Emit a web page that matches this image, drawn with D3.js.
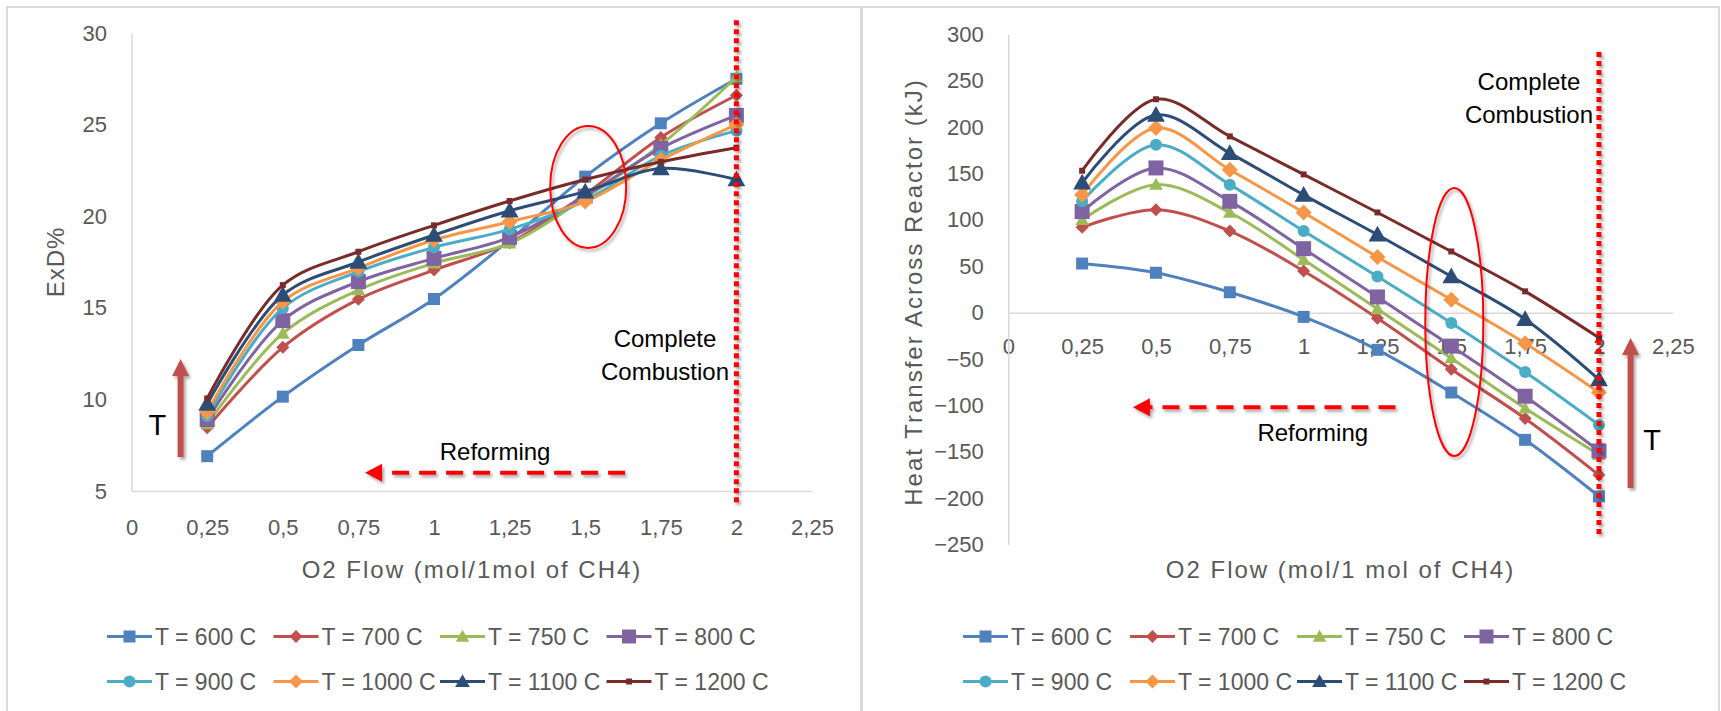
<!DOCTYPE html>
<html>
<head>
<meta charset="utf-8">
<script src="https://cdn.jsdelivr.net/npm/d3@7"></script>
<style>
  body { margin: 0; background: #fff; }
  text { font-family: "Liberation Sans", Arial, sans-serif; }
</style>
</head>
<body>
<div id="chart"></div>
<script>
// O2 flow values (x) shared by both charts
var o2Flow = [0.25, 0.5, 0.75, 1, 1.25, 1.5, 1.75, 2];
var xTicks = [0, 0.25, 0.5, 0.75, 1, 1.25, 1.5, 1.75, 2, 2.25];
var xTickLabels = ["0", "0,25", "0,5", "0,75", "1", "1,25", "1,5", "1,75", "2", "2,25"];
var exdTicks = [5, 10, 15, 20, 25, 30];
var heatTicks = [-250, -200, -150, -100, -50, 0, 50, 100, 150, 200, 250, 300];
var tempLabels = ["T = 600 C", "T = 700 C", "T = 750 C", "T = 800 C",
                  "T = 900 C", "T = 1000 C", "T = 1100 C", "T = 1200 C"];

// left chart : ExD%
var exd600  = [6.9, 10.15, 12.97, 15.48, 18.7, 22.16, 25.07, 27.5];
var exd700  = [8.45, 12.84, 15.46, 17.06, 18.55, 21.2, 24.3, 26.6];
var exd750  = [8.65, 13.6, 15.97, 17.43, 18.52, 21.0, 23.9, 27.6];
var exd800  = [8.9, 14.3, 16.43, 17.7, 18.85, 21.1, 23.7, 25.5];
var exd900  = [9.1, 14.98, 16.97, 18.3, 19.28, 20.85, 23.3, 24.67];
var exd1000 = [9.3, 15.33, 17.17, 18.7, 19.7, 20.8, 23.07, 25.0];
var exd1100 = [9.75, 15.7, 17.5, 18.97, 20.3, 21.34, 22.6, 22.0];
var exd1200 = [10.05, 16.24, 18.06, 19.5, 20.83, 22.0, 22.97, 23.74];

// right chart : heat transfer across reactor (kJ)
var heat600  = [53, 43, 22, -4.5, -40, -86, -137, -198];
var heat700  = [92, 111, 88, 45, -6, -61, -114, -175];
var heat750  = [100, 138, 108, 57, 4, -49, -103, -153];
var heat800  = [109, 156, 120, 69, 17, -36, -90, -149];
var heat900  = [120, 181, 138, 88, 39, -11, -64, -121];
var heat1000 = [127, 199, 154, 108, 60, 14, -33, -86];
var heat1100 = [140, 213, 172, 127, 84, 39, -7, -72];
var heat1200 = [153, 230, 190, 149, 108, 66, 23, -27];

var exdSeries = [exd600, exd700, exd750, exd800, exd900, exd1000, exd1100, exd1200];
var heatSeries = [heat600, heat700, heat750, heat800, heat900, heat1000, heat1100, heat1200];

// estilos de las series
var colores = ["#4F81BD", "#C0504D", "#9BBB59", "#8064A2", "#4BACC6", "#F79646", "#2C4D75", "#772C2A"];
var formas = ["square", "diamond", "triangle", "square", "circle", "diamond", "triangle", "square"];
var tamanos = [12, 13, 13, 15, 12, 16, 17, 6];

var gris = "#595959", ejeColor = "#D9D9D9";

var svg = d3.select("#chart").append("svg")
  .attr("width", 1721).attr("height", 711);

var defs = svg.append("defs");
// userSpaceOnUse so that the vertical dotted line (zero-width bbox) is still drawn
var sombra = defs.append("filter").attr("id", "sombra")
  .attr("filterUnits", "userSpaceOnUse")
  .attr("x", 0).attr("y", 0).attr("width", 1721).attr("height", 711);
sombra.append("feDropShadow").attr("dx", 2).attr("dy", 2.5)
  .attr("stdDeviation", 1.6).attr("flood-color", "#000").attr("flood-opacity", 0.35);

// marcos de los paneles
svg.append("rect").attr("x", 0).attr("y", 0).attr("width", 1721).attr("height", 711).attr("fill", "#fff");
svg.append("line").attr("x1", 6).attr("x2", 1720).attr("y1", 7).attr("y2", 7)
  .attr("stroke", ejeColor).attr("stroke-width", 2);
[7, 861.5, 1719].forEach(function(x, i) {
  svg.append("line").attr("x1", x).attr("x2", x).attr("y1", 6).attr("y2", 711)
    .attr("stroke", ejeColor).attr("stroke-width", i == 1 ? 3 : 2);
});

function markerPath(forma, s) {
  var h = s / 2;
  if (forma == "square") return "M" + (-h) + "," + (-h) + "h" + s + "v" + s + "h" + (-s) + "Z";
  if (forma == "diamond") return "M0," + (-h) + "L" + h + ",0L0," + h + "L" + (-h) + ",0Z";
  if (forma == "triangle") return "M0," + (-h * 1.05) + "L" + (h * 1.05) + "," + (h * 0.8) + "L" + (-h * 1.05) + "," + (h * 0.8) + "Z";
  // circle
  return "M" + h + ",0A" + h + "," + h + " 0 1,1 " + (-h) + ",0A" + h + "," + h + " 0 1,1 " + h + ",0Z";
}

function dibujarGrafica(cfg) {
  var x = d3.scaleLinear().domain([0, 2.25]).range(cfg.xRange);
  var y = d3.scaleLinear().domain(cfg.yDomain).range(cfg.yRange);
  var g = svg.append("g");

  // eje horizontal
  var ejeX = g.append("g")
    .attr("transform", "translate(0," + y(cfg.xAxisAt) + ")")
    .call(d3.axisBottom(x).tickValues(xTicks)
      .tickFormat(function(d, i) { return xTickLabels[i]; })
      .tickSize(0).tickSizeOuter(0).tickPadding(cfg.xPad));
  ejeX.select(".domain").attr("stroke", ejeColor).attr("stroke-width", 1.5);
  ejeX.selectAll("text").attr("fill", gris).style("font-size", "22px")
    .style("font-family", "'Liberation Sans', Arial, sans-serif");

  // eje vertical
  var ejeY = g.append("g")
    .attr("transform", "translate(" + x(0) + ",0)")
    .call(d3.axisLeft(y).tickValues(cfg.yTicks).tickSize(0).tickSizeOuter(0).tickPadding(24.5));
  ejeY.select(".domain").attr("stroke", ejeColor).attr("stroke-width", 1.5);
  ejeY.selectAll("text").attr("fill", gris).style("font-size", "22px")
    .style("font-family", "'Liberation Sans', Arial, sans-serif");

  // titulos de ejes
  g.append("text").attr("x", cfg.xTitlePos[0]).attr("y", cfg.xTitlePos[1])
    .attr("text-anchor", "middle").attr("dominant-baseline", "central")
    .attr("fill", gris).style("font-size", "24px").style("letter-spacing", "2px")
    .text(cfg.xTitle);
  g.append("text")
    .attr("transform", "translate(" + cfg.yTitlePos[0] + "," + cfg.yTitlePos[1] + ") rotate(-90)")
    .attr("text-anchor", "middle").attr("dominant-baseline", "central")
    .attr("fill", gris).style("font-size", "24px").style("letter-spacing", cfg.yTitleSpacing)
    .text(cfg.yTitle);

  // series
  var linea = d3.line()
    .x(function(d, i) { return x(o2Flow[i]); })
    .y(function(d) { return y(d); })
    .curve(d3.curveCatmullRom.alpha(0.5));

  cfg.series.forEach(function(serie, k) {
    var gs = g.append("g");
    gs.append("path").datum(serie)
      .attr("d", linea).attr("fill", "none")
      .attr("stroke", colores[k]).attr("stroke-width", 3);
    gs.selectAll("path.mk").data(serie).enter().append("path")
      .attr("class", "mk")
      .attr("transform", function(d, i) { return "translate(" + x(o2Flow[i]) + "," + y(d) + ")"; })
      .attr("d", markerPath(formas[k], tamanos[k]))
      .attr("fill", colores[k]);
  });

  var a = cfg.notes;

  // linea punteada de combustion completa
  g.append("line")
    .attr("x1", x(2)).attr("x2", x(2))
    .attr("y1", y(a.dotTop)).attr("y2", y(a.dotBottom))
    .attr("stroke", "#FF0000").attr("stroke-width", 5)
    .attr("stroke-dasharray", "5,4").attr("filter", "url(#sombra)");

  g.append("text").attr("x", x(a.completeX)).attr("y", y(a.completeY[0]))
    .attr("text-anchor", "middle").attr("dominant-baseline", "central")
    .attr("fill", "#000").style("font-size", "24px").text("Complete");
  g.append("text").attr("x", x(a.completeX)).attr("y", y(a.completeY[1]))
    .attr("text-anchor", "middle").attr("dominant-baseline", "central")
    .attr("fill", "#000").style("font-size", "24px").text("Combustion");

  // flecha de reformado
  var rx1 = x(a.reformFrom), rx2 = x(a.reformTo), ry = y(a.reformY);
  var gr = g.append("g").attr("filter", "url(#sombra)");
  gr.append("line").attr("x1", rx1).attr("x2", rx2 + 14).attr("y1", ry).attr("y2", ry)
    .attr("stroke", "#FF0000").attr("stroke-width", 4).attr("stroke-dasharray", "17,10");
  gr.append("path")
    .attr("d", "M" + rx2 + "," + ry + "L" + (rx2 + 17) + "," + (ry - 9) + "L" + (rx2 + 17) + "," + (ry + 9) + "Z")
    .attr("fill", "#FF0000");
  g.append("text").attr("x", x(a.reformLabel[0])).attr("y", y(a.reformLabel[1]))
    .attr("text-anchor", "middle").attr("dominant-baseline", "central")
    .attr("fill", "#000").style("font-size", "24px").text("Reforming");

  // flecha de temperatura
  var tx = x(a.tArrowX), tTop = y(a.tArrowTop), tBot = y(a.tArrowBottom);
  g.append("path")
    .attr("d", "M" + (tx - 3) + "," + tBot + "L" + (tx - 3) + "," + (tTop + 17) +
               "L" + (tx - 8.5) + "," + (tTop + 17) + "L" + tx + "," + tTop +
               "L" + (tx + 8.5) + "," + (tTop + 17) + "L" + (tx + 3) + "," + (tTop + 17) +
               "L" + (tx + 3) + "," + tBot + "Z")
    .attr("fill", "#C0504D").attr("filter", "url(#sombra)");
  g.append("text").attr("x", x(a.tLabel[0])).attr("y", y(a.tLabel[1]))
    .attr("text-anchor", "middle").attr("dominant-baseline", "central")
    .attr("fill", "#000").style("font-size", "29px").text("T");

  // elipse en 1,5
  g.append("ellipse")
    .attr("cx", x(1.5) + a.ellipse[0]).attr("cy", y(a.ellipse[1]))
    .attr("rx", a.ellipse[2]).attr("ry", a.ellipse[3])
    .attr("fill", "none").attr("stroke", "#FF0000").attr("stroke-width", 2)
    .attr("filter", "url(#sombra)");

  // leyenda
  var ley = g.append("g");
  tempLabels.forEach(function(lbl, k) {
    var lx = cfg.legendX + (k % 4) * cfg.legendStep;
    var ly = k < 4 ? 636.5 : 681.5;
    ley.append("line").attr("x1", lx).attr("x2", lx + 45).attr("y1", ly).attr("y2", ly)
      .attr("stroke", colores[k]).attr("stroke-width", 3);
    ley.append("path").attr("transform", "translate(" + (lx + 22.5) + "," + ly + ")")
      .attr("d", markerPath(formas[k], Math.min(tamanos[k], 14))).attr("fill", colores[k]);
    ley.append("text").attr("x", lx + 48).attr("y", ly)
      .attr("dominant-baseline", "central").attr("fill", gris)
      .style("font-size", "23px").text(lbl);
  });
}

dibujarGrafica({
  xRange: [131.6, 812], yDomain: [5, 30], yRange: [491, 33],
  yTicks: exdTicks, xAxisAt: 5, xPad: 28,
  xTitle: "O2 Flow (mol/1mol of CH4)", xTitlePos: [472, 569],
  yTitle: "ExD%", yTitlePos: [55, 262], yTitleSpacing: "1px",
  series: exdSeries,
  legendX: 107, legendStep: 166.5,
  notes: {
    dotTop: 30.7, dotBottom: 4.35,
    completeX: 1.764, completeY: [13.3, 11.55],
    reformFrom: 1.632, reformTo: 0.772, reformY: 6.0, reformLabel: [1.202, 7.13],
    tArrowX: 0.162, tArrowTop: 12.2, tArrowBottom: 6.85, tLabel: [0.085, 8.6],
    ellipse: [3, 21.6, 38, 61]
  }
});

dibujarGrafica({
  xRange: [1008.3, 1672.8], yDomain: [-250, 300], yRange: [544.7, 34.3],
  yTicks: heatTicks, xAxisAt: 0, xPad: 26,
  xTitle: "O2 Flow (mol/1 mol of CH4)", xTitlePos: [1340.5, 569],
  yTitle: "Heat Transfer Across Reactor (kJ)", yTitlePos: [913, 292], yTitleSpacing: "2px",
  series: heatSeries,
  legendX: 963, legendStep: 167,
  notes: {
    dotTop: 281, dotBottom: -240,
    completeX: 1.763, completeY: [248.6, 214],
    reformFrom: 1.311, reformTo: 0.422, reformY: -102, reformLabel: [1.031, -129.6],
    tArrowX: 2.107, tArrowTop: -27.3, tArrowBottom: -189, tLabel: [2.18, -137],
    ellipse: [3, -10, 29, 134]
  }
});
</script>
</body>
</html>
